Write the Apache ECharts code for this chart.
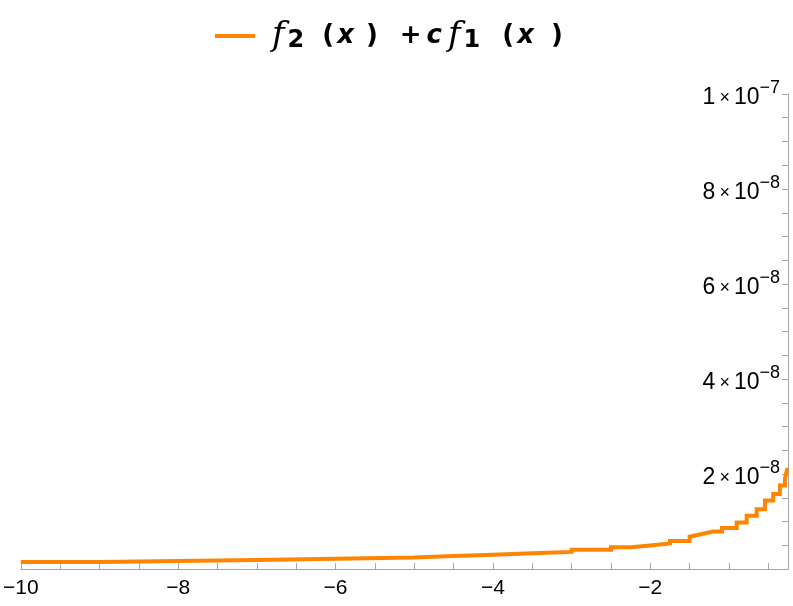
<!DOCTYPE html>
<html>
<head>
<meta charset="utf-8">
<script src="https://cdn.jsdelivr.net/npm/echarts@6/dist/echarts.min.js"></script>
<style>
  html, body { margin: 0; background: #fff; }
  #chart { width: 793px; height: 606px; }
</style>
</head>
<body>
<div id="chart"></div>
<script>
"use strict";

// staircase of f2(x) + c f1(x); jumps repeat the x value
const xValues = [
  -10, -9, -9, -8, -8, -7, -7, -6, -6, -5, -5, -4.5, -4.5, -4, -4, -3.5, -3.5, -3,
  -3, -2.5, -2.5, -2.25, -2.25, -2, -2, -1.75, -1.75, -1.5, -1.5, -1.2, -1.09,
  -1.09, -0.902, -0.902, -0.775, -0.775, -0.648, -0.648, -0.543, -0.543, -0.438,
  -0.438, -0.353, -0.353, -0.289, -0.289, -0.262, -0.25
];
const yValues = [
  1.45e-9, 1.45e-9, 1.70e-9, 1.70e-9, 1.90e-9, 1.90e-9, 2.15e-9, 2.15e-9, 2.40e-9,
  2.40e-9, 2.75e-9, 2.75e-9, 3.00e-9, 3.00e-9, 3.30e-9, 3.30e-9, 3.60e-9, 3.60e-9,
  4.05e-9, 4.05e-9, 4.58e-9, 4.58e-9, 4.96e-9, 4.96e-9, 5.38e-9, 5.38e-9, 5.87e-9,
  5.87e-9, 6.80e-9, 7.87e-9, 7.87e-9, 8.61e-9, 8.61e-9, 9.81e-9, 9.81e-9, 1.12e-8,
  1.12e-8, 1.26e-8, 1.26e-8, 1.44e-8, 1.44e-8, 1.58e-8, 1.58e-8, 1.76e-8, 1.76e-8,
  1.90e-8, 2.09e-8, 2.09e-8
];
const seriesName = "f2(x) + c f1(x)";

const axisGray = "#a6a6a6";
const lineOrange = "#ff8400";

const chart = echarts.init(document.getElementById("chart"));

// 8e-8 -> 8×10^-8 as rich text
function sciLabel(v) {
  if (v <= 0) return "";
  const e = Math.floor(Math.log10(v) + 1e-9);
  const m = Math.round(v / Math.pow(10, e));
  return "{b|" + m + "}{x|×}{b|10}{e|\u2212" + (-e) + "}";
}

const boldSans = { fontFamily: "DejaVu Sans", fontWeight: "bold", fontSize: 26 };

const option = {
  animation: false,
  backgroundColor: "#fff",
  grid: { left: 19, right: 5, top: 94, bottom: 37 },
  legend: {
    data: [seriesName],
    left: 210,
    top: 14,
    icon: "rect",
    itemWidth: 40,
    itemHeight: 4,
    formatter: () =>
      "{f|f}{s|2}{p1|(}{v|x}{p|)}{o|+}{c|c}{f2|f}{s|1}{p2|(}{v|x}{pe|)}",
    textStyle: {
      color: "#000",
      fontSize: 26,
      rich: {
        f: { fontFamily: "DejaVu Serif", fontStyle: "italic", fontSize: 34, padding: [0, 0, 0, 12] },
        f2: { fontFamily: "DejaVu Serif", fontStyle: "italic", fontSize: 34, padding: [0, 0, 0, 6] },
        s: { fontFamily: "DejaVu Sans", fontWeight: "bold", fontSize: 24, verticalAlign: "bottom", padding: [0, 0, 0, 3] },
        p1: Object.assign({ padding: [0, 0, 0, 18] }, boldSans),
        p2: Object.assign({ padding: [0, 0, 0, 22] }, boldSans),
        p: Object.assign({ padding: [0, 0, 0, 12] }, boldSans),
        pe: Object.assign({ padding: [0, 0, 0, 17] }, boldSans),
        v: Object.assign({ fontStyle: "italic", padding: [0, 0, 0, 3] }, boldSans),
        o: Object.assign({ padding: [0, 0, 0, 22] }, boldSans),
        c: Object.assign({ fontStyle: "italic", padding: [0, 0, 0, 5] }, boldSans)
      }
    }
  },
  xAxis: {
    type: "value",
    min: -10,
    max: -0.25,
    interval: 2,
    axisLine: { onZero: false, lineStyle: { color: axisGray, width: 1 } },
    axisTick: { inside: true, length: 6, lineStyle: { color: axisGray } },
    minorTick: { show: true, splitNumber: 4, length: 6, lineStyle: { color: axisGray } },
    splitLine: { show: false },
    axisLabel: {
      showMaxLabel: false,
      color: "#000",
      fontFamily: "Liberation Sans",
      fontSize: 21,
      margin: 9,
      formatter: (v) => String(v).replace("-", "\u2212")
    }
  },
  yAxis: {
    type: "value",
    position: "right",
    min: 0,
    max: 1e-7,
    interval: 2e-8,
    axisLine: { show: true, onZero: false, lineStyle: { color: axisGray, width: 1 } },
    axisTick: { inside: true, length: 6, lineStyle: { color: axisGray } },
    minorTick: { show: true, splitNumber: 4, length: 6, lineStyle: { color: axisGray } },
    splitLine: { show: false },
    axisLabel: {
      inside: true,
      showMinLabel: false,
      margin: 8,
      color: "#000",
      fontFamily: "Liberation Sans",
      fontSize: 23,
      formatter: sciLabel,
      rich: {
        b: { fontFamily: "Liberation Sans", fontSize: 23, color: "#000", lineHeight: 30, verticalAlign: "bottom" },
        x: { fontFamily: "Liberation Sans", fontSize: 18, color: "#000", lineHeight: 30, verticalAlign: "bottom", padding: [0, 4, 2, 4] },
        e: { fontFamily: "Liberation Sans", fontSize: 18, color: "#000", lineHeight: 30, verticalAlign: "top" }
      }
    }
  },
  series: [
    {
      name: seriesName,
      type: "line",
      data: xValues.map((x, i) => [x, yValues[i]]),
      showSymbol: false,
      symbol: "none",
      color: lineOrange,
      lineStyle: { color: lineOrange, width: 4, cap: "butt", join: "miter" }
    }
  ]
};

chart.setOption(option);
</script>
</body>
</html>
